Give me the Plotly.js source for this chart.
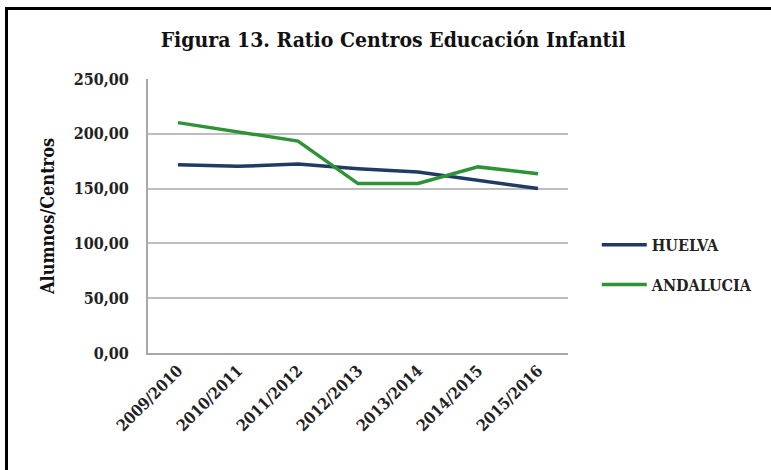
<!DOCTYPE html>
<html>
<head>
<meta charset="utf-8">
<script src="https://cdn.plot.ly/plotly-3.0.1.min.js"></script>
<style>
  html, body { margin: 0; padding: 0; background: #fff; overflow: hidden; width: 771px; height: 470px; }
  #chart { width: 771px; height: 470px; position: absolute; left: 0; top: 0; }
  #frame { position: absolute; left: 5px; top: 7px; width: 766px; height: 463px; box-sizing: border-box;
           border-top: 3px solid #000; border-left: 3px solid #000; pointer-events: none; }
</style>
</head>
<body>
<div id="chart"></div>
<div id="frame"></div>
<script>
const categories = ["2009/2010", "2010/2011", "2011/2012", "2012/2013", "2013/2014", "2014/2015", "2015/2016"];
const huelva = [171.8, 170.3, 172.5, 168.2, 165.1, 157.6, 150.0];
const andalucia = [210.2, 201.6, 193.3, 154.6, 154.6, 169.8, 163.6];
const yTicks = [0, 50, 100, 150, 200, 250];
const seriesNames = ["HUELVA", "ANDALUCIA"];
const seriesColors = ["#1f3b63", "#2e9236"];

const FONT = "'DejaVu Serif Condensed', 'DejaVu Serif', serif";

const traces = [huelva, andalucia].map((vals, i) => ({
  type: "scatter",
  mode: "lines",
  x: categories,
  y: vals,
  name: seriesNames[i],
  legendgroup: "g" + i,
  line: { color: seriesColors[i], width: 3.5 }
}));

const layout = {
  width: 771,
  height: 470,
  margin: { l: 148, r: 203, t: 79, b: 117 },
  paper_bgcolor: "#fff",
  plot_bgcolor: "#fff",
  separators: ",.",
  font: { family: FONT, color: "#222", size: 16 },
  title: {
    text: "<b>Figura 13. Ratio Centros Educación Infantil</b>",
    font: { family: FONT, size: 21, color: "#111" },
    x: 0.51, xanchor: "center",
    y: 0.915, yanchor: "middle"
  },
  xaxis: {
    type: "category",
    range: [-0.5, 6.5],
    showgrid: false,
    showline: true,
    linecolor: "#a8a8a8",
    linewidth: 2,
    ticks: "",
    tickangle: -45,
    tickfont: { family: FONT, size: 16, color: "#222", weight: "bold" },
    fixedrange: true
  },
  yaxis: {
    range: [0, 250],
    tickvals: yTicks,
    tickformat: ".2f",
    showgrid: true,
    gridcolor: "#bdbdbd",
    gridwidth: 2,
    showline: true,
    linecolor: "#a8a8a8",
    linewidth: 2,
    zeroline: false,
    ticks: "",
    ticklabelstandoff: 14,
    tickfont: { family: FONT, size: 16, color: "#222", weight: "bold" },
    title: {
      text: "<b>Alumnos/Centros</b>",
      font: { family: FONT, size: 18, color: "#111" },
      standoff: 14
    },
    fixedrange: true
  },
  showlegend: true,
  legend: {
    x: 1.0685, xanchor: "left",
    y: 0.322, yanchor: "middle",
    traceorder: "grouped",
    tracegroupgap: 16,
    itemwidth: 45,
    font: { family: FONT, size: 16, color: "#222", weight: "bold" },
    bgcolor: "rgba(0,0,0,0)"
  }
};

Plotly.newPlot("chart", traces, layout, { staticPlot: true, displayModeBar: false });
</script>
</body>
</html>
